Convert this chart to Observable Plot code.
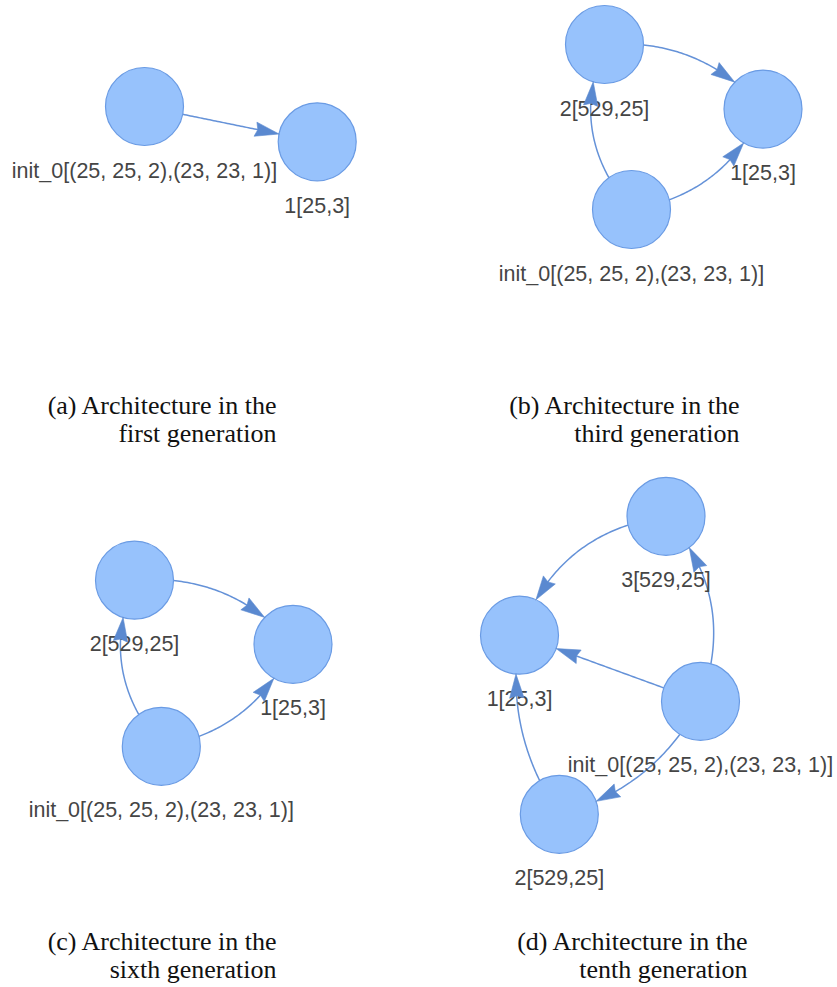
<!DOCTYPE html>
<html><head><meta charset="utf-8">
<script src="https://cdn.jsdelivr.net/npm/d3@7"></script>
<script src="https://cdn.jsdelivr.net/npm/@observablehq/plot@0.6"></script>
<style>html,body{margin:0;padding:0;background:#fff;} #chart{width:837px;height:987px;}</style>
</head><body><div id="chart"></div>
<script>
// ---------------- data ----------------
const nodePanel = ["a","a","b","b","b","c","c","c","d","d","d","d"];
const nodeName  = ["init_0","1","2","1","init_0","2","1","init_0","3","1","init_0","2"];
const nodeLabel = [
  "init_0[(25, 25, 2),(23, 23, 1)]","1[25,3]",
  "2[529,25]","1[25,3]","init_0[(25, 25, 2),(23, 23, 1)]",
  "2[529,25]","1[25,3]","init_0[(25, 25, 2),(23, 23, 1)]",
  "3[529,25]","1[25,3]","init_0[(25, 25, 2),(23, 23, 1)]","2[529,25]"
];
// graph layout coordinates
const nodeX = [144, 316.7, 604, 762.5, 631, 134, 292.5, 160.8, 665.5, 519, 700, 558.8];
const nodeY = [106, 141.3, 44, 108.6, 209, 579.7, 643.8, 745.8, 515.8, 634.7, 700.8, 813.8];

const edgePanel  = ["a","b","b","b","c","c","c","d","d","d","d","d"];
const edgeSource = ["init_0","2","init_0","init_0","2","init_0","init_0","3","init_0","init_0","init_0","2"];
const edgeTarget = ["1","1","2","1","1","2","1","1","1","3","2","1"];
const edgeBend   = [0, 0.25, 0.31, -0.27, 0.25, 0.31, -0.27, -0.30, 0, -0.30, 0.22, 0.20];

const captionPanel = ["a","b","c","d"];
const captionTag = ["(a)","(b)","(c)","(d)"];
const captionGeneration = ["first","third","sixth","tenth"];

// ---------------- layout / style ----------------
const W = 837, H = 987;
const R = 39;            // node radius (px)
const ARROW = 24;        // arrow head length (px)
const NODE_FILL = "#97c2fc", NODE_STROKE = "#6a9be4", EDGE_C = "#6592d8", ARROW_C = "#5a89d0";
const captionRight = {a: 276, b: 739, c: 276, d: 747};
const captionBase = {a: 413, b: 413, c: 949, d: 949};
const captionGap = 28;

// ---------------- derived ----------------
const nodes = nodePanel.map((p, i) => ({panel: p, name: nodeName[i], label: nodeLabel[i], x: nodeX[i], y: nodeY[i]}));
const findNode = (p, n) => nodes.find(d => d.panel === p && d.name === n);

function bez(P0, C, P2, t) {
  const u = 1 - t;
  return [u*u*P0[0] + 2*u*t*C[0] + t*t*P2[0], u*u*P0[1] + 2*u*t*C[1] + t*t*P2[1]];
}
const dist = (a, b) => Math.hypot(a[0]-b[0], a[1]-b[1]);
function solve(f, target, lo, hi, increasing) {
  for (let k = 0; k < 50; k++) {
    const m = (lo + hi) / 2;
    const v = f(m);
    if ((v < target) === increasing) lo = m; else hi = m;
  }
  return (lo + hi) / 2;
}

const edgePts = [], arrowPts = [];
edgePanel.forEach((p, i) => {
  const s = findNode(p, edgeSource[i]), t = findNode(p, edgeTarget[i]);
  const P0 = [s.x, s.y], P2 = [t.x, t.y];
  const dx = P2[0]-P0[0], dy = P2[1]-P0[1];
  const k = edgeBend[i];
  const C = [(P0[0]+P2[0])/2 + k*dy, (P0[1]+P2[1])/2 - k*dx];
  const B = tt => bez(P0, C, P2, tt);
  const t0 = solve(tt => dist(B(tt), P0), R, 0, 0.6, true);
  const t1 = solve(tt => dist(B(tt), P2), R, 0.4, 1, false);
  const tip = B(t1);
  const tb = solve(tt => dist(B(tt), tip), ARROW, 0, t1, false);
  const tn = solve(tt => dist(B(tt), tip), ARROW*0.8, 0, t1, false);
  const N = 40;
  for (let j = 0; j <= N; j++) {
    const tt = t0 + (tn - t0) * j / N;
    const q = B(tt);
    edgePts.push({id: i, x: q[0], y: q[1]});
  }
  const base = B(tb);
  let ux = tip[0]-base[0], uy = tip[1]-base[1];
  const L = Math.hypot(ux, uy); ux /= L; uy /= L;
  const nx = -uy, ny = ux;
  const A = ARROW;
  const poly = [
    [tip[0], tip[1]],
    [tip[0]-A*ux + 0.3*A*nx, tip[1]-A*uy + 0.3*A*ny],
    [tip[0]-0.9*A*ux, tip[1]-0.9*A*uy],
    [tip[0]-A*ux - 0.3*A*nx, tip[1]-A*uy - 0.3*A*ny],
    [tip[0], tip[1]]
  ];
  poly.forEach(q => arrowPts.push({id: i, x: q[0], y: q[1]}));
});

const captions = captionPanel.map((p, i) => ({
  panel: p,
  line1: `${captionTag[i]} Architecture in the`,
  line2: `${captionGeneration[i]} generation`,
  x: captionRight[p],
  y1: captionBase[p],
  y2: captionBase[p] + captionGap
}));

const chart = Plot.plot({
  width: W, height: H, margin: 0,
  style: {background: "#fff"},
  x: {type: "linear", domain: [0, W], range: [0, W], axis: null},
  y: {type: "linear", domain: [0, H], range: [0, H], axis: null},
  marks: [
    Plot.line(edgePts, {x: "x", y: "y", z: "id", stroke: EDGE_C, strokeWidth: 1.5, curve: "linear"}),
    Plot.dot(nodes, {x: "x", y: "y", r: R, fill: NODE_FILL, stroke: NODE_STROKE, strokeWidth: 1.2}),
    Plot.text(nodes, {x: "x", y: "y", text: "label", dy: 71, lineAnchor: "bottom", fontSize: 21.5,
      fontFamily: "'Liberation Sans', Arial, sans-serif", fill: "#454545"}),
    Plot.line(arrowPts, {x: "x", y: "y", z: "id", fill: ARROW_C, stroke: ARROW_C, strokeWidth: 0.6, curve: "linear"}),
    Plot.text(captions, {x: "x", y: "y1", text: "line1", textAnchor: "end", lineAnchor: "bottom", fontSize: 26,
      fontFamily: "'Liberation Serif', 'Times New Roman', serif", fill: "#111"}),
    Plot.text(captions, {x: "x", y: "y2", text: "line2", textAnchor: "end", lineAnchor: "bottom", fontSize: 26,
      fontFamily: "'Liberation Serif', 'Times New Roman', serif", fill: "#111"})
  ]
});
document.getElementById("chart").appendChild(chart);
</script>
</body></html>
